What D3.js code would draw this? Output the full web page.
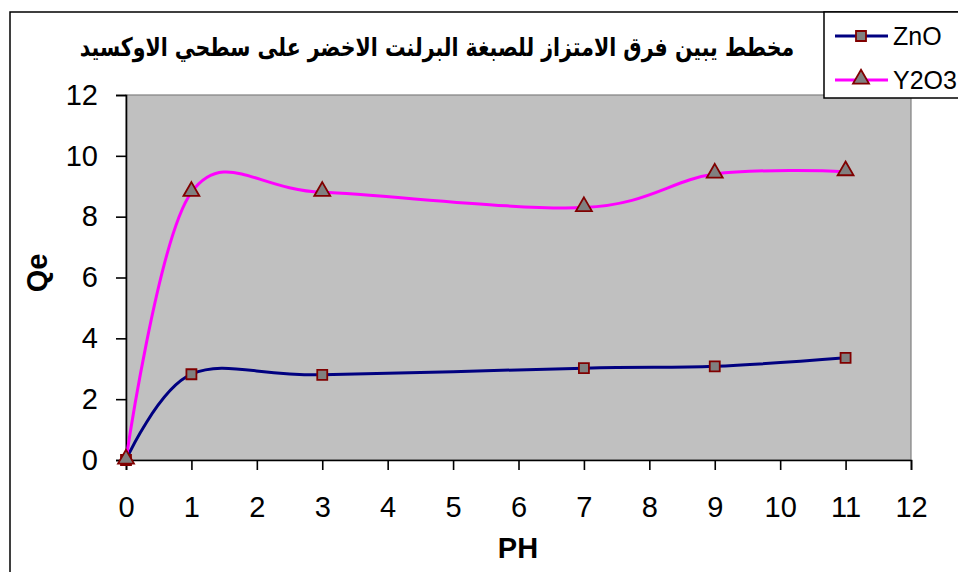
<!DOCTYPE html>
<html><head><meta charset="utf-8">
<script src="https://cdn.jsdelivr.net/npm/d3@7"></script>
<style>html,body{margin:0;padding:0;background:#fff;overflow:hidden}</style>
</head><body>
<svg id="c" width="958" height="572"></svg>
<script>
const titleText = "مخطط يبين فرق الامتزاز للصبغة البرلنت الاخضر على سطحي الاوكسيد";
const xLabel = "PH";
const yLabel = "Qe";
const pH = [0, 1, 3, 7, 9, 11];
const znO = [0, 2.82, 2.8, 3.02, 3.08, 3.36];
const y2O3 = [0, 8.8, 8.8, 8.3, 9.4, 9.48];
const seriesNames = ["ZnO", "Y2O3"];
const xTicks = [0,1,2,3,4,5,6,7,8,9,10,11,12];
const yTicks = [0,2,4,6,8,10,12];

const svg = d3.select("#c");
const num = "'Liberation Sans', Arial, sans-serif";
const L = 126, R = 911, T = 95, B = 460;
const x = d3.scaleLinear().domain([0, 12]).range([L, R]);
const y = d3.scaleLinear().domain([0, 12]).range([B, T]);

// outer chart border
svg.append("rect").attr("x",10).attr("y",12).attr("width",1000).attr("height",620)
  .attr("fill","#fff").attr("stroke","#000").attr("stroke-width",1.5);

// plot area
svg.append("rect").attr("x",L).attr("y",T).attr("width",R-L).attr("height",B-T)
  .attr("fill","#c0c0c0").attr("stroke","#808080").attr("stroke-width",1.2);

// axes
const yAx = svg.append("g").attr("transform",`translate(${L},0)`)
  .call(d3.axisLeft(y).tickValues(yTicks).tickSize(10).tickPadding(18).tickFormat(d3.format("d")));
const xAx = svg.append("g").attr("transform",`translate(0,${B})`)
  .call(d3.axisBottom(x).tickValues(xTicks).tickSize(10).tickPadding(26).tickFormat(d3.format("d")));
[yAx, xAx].forEach(g => {
  g.select(".domain").attr("stroke","#000").attr("stroke-width",1.6);
  g.selectAll(".tick line").attr("stroke","#000").attr("stroke-width",1.6);
  g.selectAll(".tick text").attr("fill","#000").style("font-family",num).style("font-size","29px");
});

// series (Excel-style smoothing: uniform Catmull-Rom)
const curve = d3.curveCardinal.tension(0);
const line = d3.line().x(d => x(d[0])).y(d => y(d[1])).curve(curve);
const dZ = pH.map((v,i) => [v, znO[i]]);
const dY = pH.map((v,i) => [v, y2O3[i]]);
svg.append("path").attr("d", line(dZ)).attr("fill","none").attr("stroke","#000080").attr("stroke-width",3).attr("stroke-linejoin","round");
svg.append("path").attr("d", line(dY)).attr("fill","none").attr("stroke","#ff00ff").attr("stroke-width",3).attr("stroke-linejoin","round");

const sq = d3.symbol().type(d3.symbolSquare).size(100);
const tri = d3.symbol().type(d3.symbolTriangle).size(110);
svg.append("g").selectAll("path").data(dZ).join("path")
  .attr("d", sq).attr("transform", d => `translate(${x(d[0])},${y(d[1])})`)
  .attr("fill","#808080").attr("stroke","#800000").attr("stroke-width",1.8);
svg.append("g").selectAll("path").data(dY).join("path")
  .attr("d", tri).attr("transform", d => `translate(${x(d[0])},${y(d[1])-1})`)
  .attr("fill","#808080").attr("stroke","#800000").attr("stroke-width",1.8);

// axis titles
svg.append("text").attr("x",518).attr("y",558).attr("text-anchor","middle")
  .style("font-family",num).style("font-weight","bold").style("font-size","29px").text(xLabel);
svg.append("text").attr("transform","translate(47,273) rotate(-90)").attr("text-anchor","middle")
  .style("font-family",num).style("font-weight","bold").style("font-size","29px").text(yLabel);

// title
const t = svg.append("text").attr("x",0).attr("y",0).attr("direction","rtl")
  .style("font-family","'DejaVu Sans', sans-serif").style("font-weight","bold").style("font-size","29px")
  .text(titleText);
const bb = t.node().getBBox();
const targetW = 715, cx = 437, baseY = 56;
const s = targetW / bb.width;
t.attr("text-anchor","middle").attr("transform",`translate(${cx},${baseY}) scale(${s},${s*1.25})`);

// legend
svg.append("rect").attr("x",824).attr("y",12).attr("width",160).attr("height",86)
  .attr("fill","#fff").attr("stroke","#000").attr("stroke-width",1.5);
const lg = [{name:seriesNames[0], c:"#000080", sym:sq, yy:36},{name:seriesNames[1], c:"#ff00ff", sym:tri, yy:80}];
lg.forEach(d => {
  svg.append("line").attr("x1",835).attr("x2",888).attr("y1",d.yy).attr("y2",d.yy).attr("stroke",d.c).attr("stroke-width",3);
  svg.append("path").attr("d",d.sym).attr("transform",`translate(861,${d.yy - (d.sym===tri?1:0)})`)
    .attr("fill","#808080").attr("stroke","#800000").attr("stroke-width",1.8);
  svg.append("text").attr("x",893).attr("y",d.yy+9).style("font-family",num).style("font-size","25px").text(d.name);
});
</script>
</body></html>
